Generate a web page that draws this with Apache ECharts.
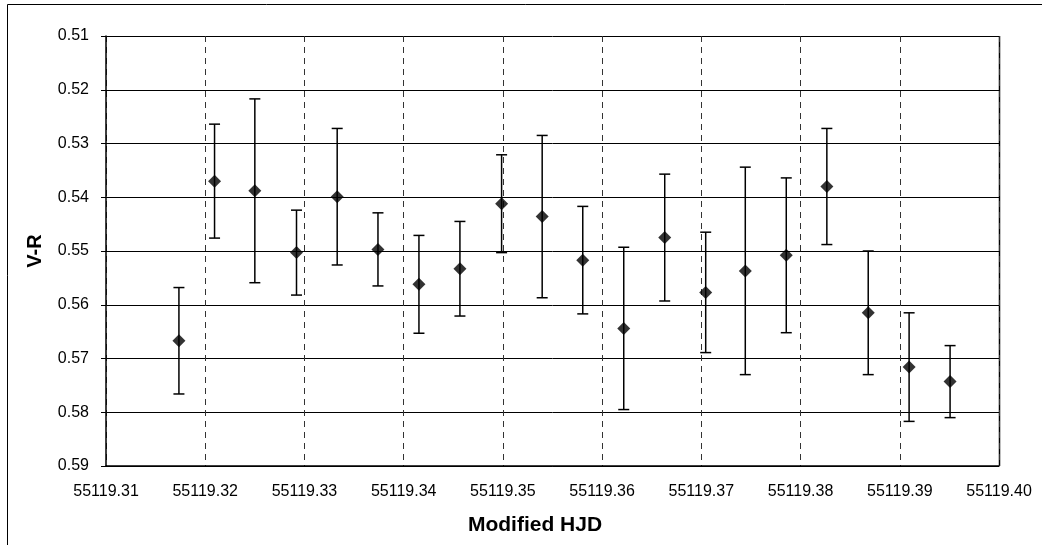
<!DOCTYPE html>
<html>
<head>
<meta charset="utf-8">
<script src="https://cdn.jsdelivr.net/npm/echarts@6/dist/echarts.min.js"></script>
<style>
  html, body { margin: 0; padding: 0; background: #fff; }
  #myChart { width: 1042px; height: 545px; }
</style>
</head>
<body>
<div id="myChart"></div>
<script>
// Modified HJD of each measurement
var hjd = [55119.31735, 55119.32094, 55119.3250, 55119.3292, 55119.3333,
           55119.33741, 55119.34154, 55119.34567, 55119.34987, 55119.35396,
           55119.35805, 55119.36218, 55119.36631, 55119.37044, 55119.37443,
           55119.37856, 55119.38265, 55119.38682, 55119.39094, 55119.39507];
// V-R colour index
var vr = [0.5667, 0.5370, 0.5388, 0.5503, 0.5399, 0.5497, 0.5562, 0.5533, 0.5412, 0.5436,
          0.5517, 0.5644, 0.5475, 0.5577, 0.5537, 0.5508, 0.5380, 0.5615, 0.5716, 0.5743];
// error (+/-)
var err = [0.0099, 0.0106, 0.0171, 0.0079, 0.0127, 0.0068, 0.0091, 0.0088, 0.0091, 0.0151,
           0.0100, 0.0151, 0.0118, 0.0112, 0.0193, 0.0144, 0.0108, 0.0115, 0.0101, 0.0067];

var font = '"Liberation Sans", Arial, sans-serif';

var points = hjd.map(function (x, i) { return [x, vr[i]]; });
var bars = hjd.map(function (x, i) { return [x, vr[i] - err[i], vr[i] + err[i]]; });

var myChart = echarts.init(document.getElementById('myChart'));
myChart.setOption({
    animation: false,
    grid: {left: 106, right: 43, top: 36, bottom: 79, show: false},
    xAxis: {
        type: 'value',
        min: 55119.31,
        max: 55119.40,
        interval: 0.01,
        axisLine: {show: true, onZero: false, lineStyle: {color: '#000', width: 1.5}},
        axisTick: {show: false},
        axisLabel: {
            margin: 18, color: '#000', fontSize: 16, fontFamily: font,
            formatter: function (v) { return v.toFixed(2); }
        },
        splitLine: {show: true, lineStyle: {color: '#333', type: [6, 5], width: 1}}
    },
    yAxis: {
        type: 'value',
        inverse: true,
        min: 0.51,
        max: 0.59,
        interval: 0.01,
        axisLine: {show: true, lineStyle: {color: '#000', width: 1.5}},
        axisTick: {show: true, length: 5, lineStyle: {color: '#000'}},
        axisLabel: {
            margin: 17, color: '#000', fontSize: 16, fontFamily: font,
            formatter: function (v) { return v.toFixed(2); }
        },
        splitLine: {show: true, lineStyle: {color: '#000', width: 1}}
    },
    graphic: [
        {type: 'rect', shape: {x: 7.5, y: 4.5, width: 1100, height: 600},
         style: {fill: 'none', stroke: '#000', lineWidth: 1}, silent: true},
        {type: 'line', shape: {x1: 999.5, y1: 36, x2: 999.5, y2: 466},
         style: {stroke: '#000', lineWidth: 1.5}, silent: true},
        {type: 'text', x: 535, y: 525,
         style: {text: 'Modified HJD', font: 'bold 21px ' + font, fill: '#000',
                 textAlign: 'center', textVerticalAlign: 'middle'}},
        {type: 'text', x: 35, y: 251, rotation: Math.PI / 2,
         style: {text: 'V-R', font: 'bold 20px ' + font, fill: '#000',
                 textAlign: 'center', textVerticalAlign: 'middle'}}
    ],
    series: [
        {
            type: 'custom',
            data: bars,
            z: 3,
            renderItem: function (params, api) {
                var top = api.coord([api.value(0), api.value(1)]);
                var bot = api.coord([api.value(0), api.value(2)]);
                var w = 5.5;
                var st = {stroke: '#000', lineWidth: 1.5};
                return {
                    type: 'group',
                    children: [
                        {type: 'line', shape: {x1: top[0], y1: top[1], x2: bot[0], y2: bot[1]}, style: st},
                        {type: 'line', shape: {x1: top[0] - w, y1: top[1], x2: top[0] + w, y2: top[1]}, style: st},
                        {type: 'line', shape: {x1: bot[0] - w, y1: bot[1], x2: bot[0] + w, y2: bot[1]}, style: st}
                    ]
                };
            }
        },
        {
            type: 'scatter',
            data: points,
            symbol: 'diamond',
            symbolSize: 13,
            z: 4,
            itemStyle: {color: '#000'}
        }
    ]
});
</script>
</body>
</html>
